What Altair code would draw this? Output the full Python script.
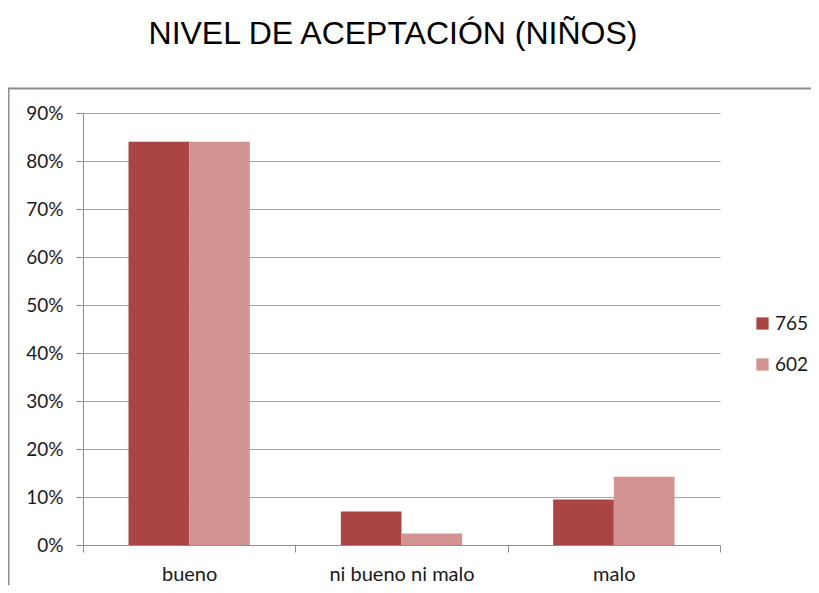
import altair as alt
import pandas as pd

categories = ["bueno", "ni bueno ni malo", "malo"]
series = ["765", "602"]
values_765 = [0.84, 0.07, 0.095]
values_602 = [0.84, 0.024, 0.142]
colors = ["#A94644", "#D39391"]
title_text = "NIVEL DE ACEPTACIÓN (NIÑOS)"

rows = []
for c, a, b in zip(categories, values_765, values_602):
    rows.append({"cat": c, "serie": "765", "val": a})
    rows.append({"cat": c, "serie": "602", "val": b})
df = pd.DataFrame(rows)

W, H = 637, 432
PAD = {"left": 75, "top": 105, "right": 91, "bottom": 40}

one = pd.DataFrame({"a": [0]})
frame_top = alt.Chart(one).mark_rule(stroke="#8c8c8c", strokeWidth=2).encode(
    x=alt.value(-74.5), x2=alt.value(W + PAD["right"] + 5),
    y=alt.value(-24.5))
frame_left = alt.Chart(one).mark_rule(stroke="#8c8c8c", strokeWidth=2).encode(
    x=alt.value(-74.5), y=alt.value(-25.5), y2=alt.value(H + PAD["bottom"] + 5))

title = alt.Chart(pd.DataFrame({"t": [title_text]})).mark_text(
    font="Liberation Sans", fontSize=32, color="#000000",
    align="center", baseline="alphabetic"
).encode(x=alt.value(310), y=alt.value(-69.5), text="t:N")

bars = alt.Chart(df).mark_bar().encode(
    x=alt.X("cat:N", sort=categories, title=None,
            scale=alt.Scale(paddingInner=0, paddingOuter=0),
            axis=alt.Axis(labelAngle=0, tickBand="extent", labelFontSize=20,
                          labelFont="Lato", labelColor="#1a1a1a",
                          labelPadding=12, tickSize=7, tickColor="#8c8c8c",
                          domainColor="#8c8c8c", grid=False)),
    xOffset=alt.XOffset("serie:N", sort=series,
                        scale=alt.Scale(paddingInner=0, paddingOuter=0.75)),
    y=alt.Y("val:Q", title=None,
            scale=alt.Scale(domain=[0, 0.9], nice=False),
            axis=alt.Axis(format=".0%", values=[i / 10 for i in range(10)],
                          labelFontSize=19, labelFont="Lato",
                          labelColor="#1a1a1a", labelPadding=13,
                          tickSize=7, tickColor="#8c8c8c",
                          domainColor="#8c8c8c", gridColor="#a6a6a6")),
    color=alt.Color("serie:N", sort=series,
                    scale=alt.Scale(domain=series, range=colors),
                    legend=alt.Legend(title=None, orient="none", legendX=670,
                                      legendY=201, symbolType="square",
                                      symbolSize=150, symbolStrokeWidth=0,
                                      labelFontSize=19, labelFont="Lato",
                                      labelColor="#1a1a1a", rowPadding=21,
                                      labelOffset=3)),
)

chart = alt.layer(frame_top, frame_left, title, bars).properties(
    width=W, height=H,
    autosize=alt.AutoSizeParams(type="none"),
    padding=PAD,
).configure_view(stroke=None).configure_axis(domainWidth=1)

chart.save("out.html", embed_options={"renderer": "svg", "actions": False})
